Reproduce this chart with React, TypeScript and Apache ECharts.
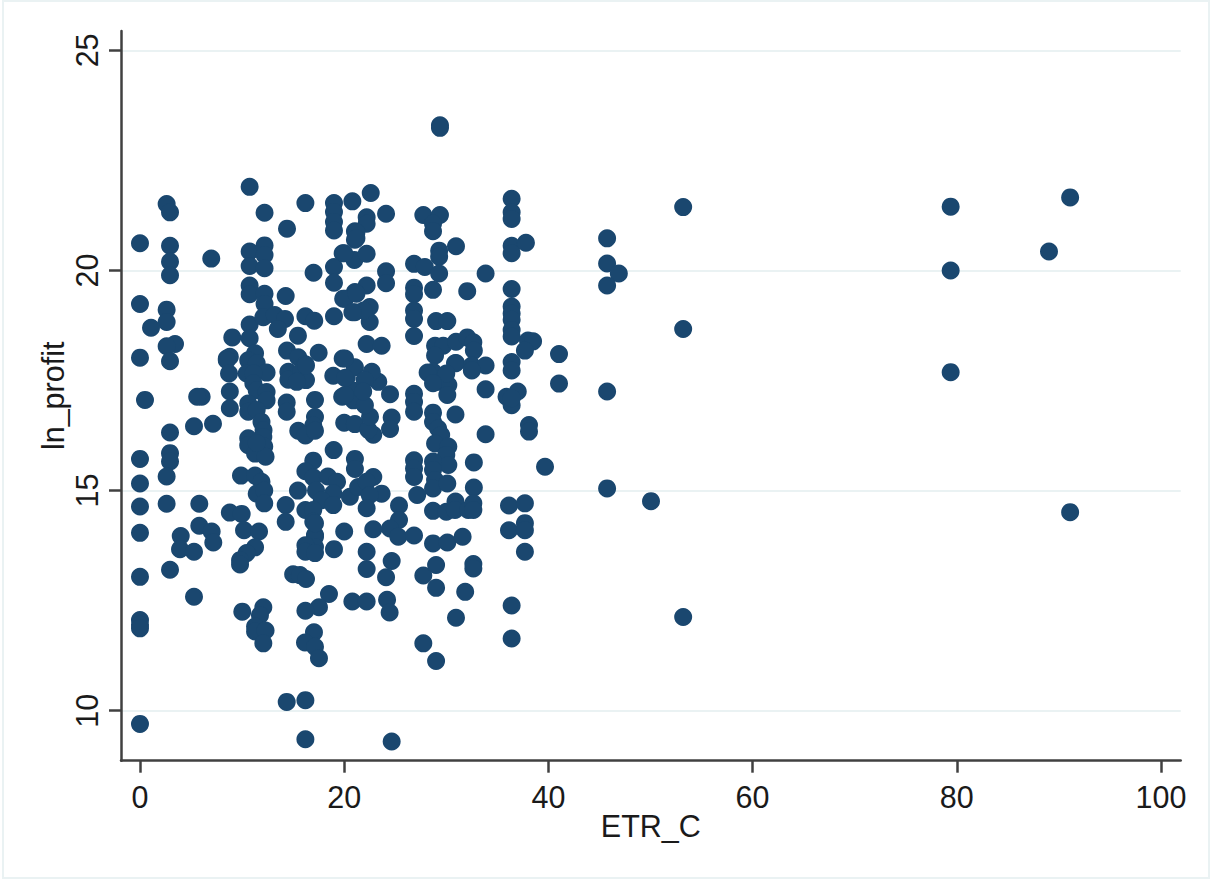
import React, { useEffect, useRef } from "react";
import * as echarts from "echarts";

const xTicks = [0, 20, 40, 60, 80, 100];
const yTicks = [10, 15, 20, 25];
const xName = "ETR_C";
const yName = "ln_profit";

const pointsTop: [number, number][] = [
  [29.38,23.3],[29.38,23.24],[10.74,21.9],[2.61,21.51],[2.94,21.32],[12.2,21.31],[14.4,20.95],[16.2,21.53],[19,21.53],[19,21.33],[19,21.1],[19,20.91],
  [20.8,21.57],[22.6,21.76],[22.2,21.21],[22.2,21.06],[21.05,20.89],[21.05,20.7],[21.2,20.87],[21.2,20.73],[24.1,21.29],[27.75,21.26],[29.38,21.26],[28.7,21.06],[28.7,20.89],
  [30.95,20.55],[29.3,20.45],[29.3,20.31],[26.84,20.15],[27.9,20.08],[29.3,19.93],[33.85,19.93],[36.4,21.63],[36.4,21.32],[36.4,21.17],[36.4,20.56],[36.4,20.39],[37.8,20.63],
  [0,20.62],[2.94,20.56],[2.94,20.2],[2.94,19.89],[6.98,20.27],[10.74,20.43],[10.74,20.1],[12.2,20.57],[12.2,20.35],[12.2,20.05],[17,19.95],[19,20.08],[19,19.72],[19.85,20.39],[21,20.24],
  [20,20.39],[22.2,20.38],[24.1,19.98],[24.1,19.71],[26.84,19.61],[26.84,19.46],[28.7,19.56],[32.05,19.53],[36.4,19.58],[36.4,19.18],[36.4,19.02],[36.4,18.88],[36.4,18.65],[36.4,18.5],
];

const pointsUpper: [number, number][] = [
  [26.84,19.09],[26.84,18.9],[26.84,18.51],[29,18.85],[30.1,18.85],[38,18.41],[38.5,18.39],[37.7,18.18],[41.04,18.1],[22.2,19.66],[21.05,19.51],[20.08,19.36],[21.05,19.05],[22.5,19.17],[22.5,18.83],[21.9,19.09],
  [22.2,18.33],[23.67,18.29],[28.9,18.29],[29.7,18.29],[30.95,18.38],[32.05,18.48],[32.65,18.37],[32.7,18.18],[28.9,18.07],[30.95,17.9],[32.5,17.84],[33.85,17.84],[36.4,17.92],[36.4,17.73],
  [10.74,19.66],[10.74,19.46],[12.2,19.47],[12.2,19.24],[0,19.24],[2.61,19.11],[2.61,18.83],[1.08,18.7],[3.43,18.33],[2.61,18.28],[2.94,17.94],[0,18.02],[9.04,18.48],[10.74,18.77],[10.74,18.46],
  [12.08,18.94],[13.2,18.99],[14.2,18.9],[13.5,18.67],[14.27,19.42],[16.2,18.96],[17.07,18.86],[19,18.96],[15.47,18.52],[14.4,18.18],[17.5,18.13],[15.5,18.03],[16.2,17.87],[19.85,18],[11.27,18.12],
  [8.5,18],[8.8,18.04],[10.74,17.92],[19.9,19.36],[20.8,19.05],[21.2,19.47],[8.5,17.96],[8.72,17.66],[10.6,17.96],[11.43,17.89],[10.45,17.66],[12.4,17.68],[11.1,17.66],[11.1,17.44],[11.43,17.28],
];

const pointsMiddle: [number, number][] = [
  [12.4,17.24],[12.4,17.05],[10.6,16.98],[10.6,16.79],[11.43,16.83],[11.9,16.56],[12.1,16.37],[10.6,16.19],[10.6,16.03],[12.08,16.22],[12.17,16],[11.27,15.84],[12.3,15.77],[11.43,16.08],
  [0.49,17.06],[6.04,17.13],[5.6,17.13],[8.8,17.25],[8.8,16.87],[5.29,16.46],[7.15,16.52],[2.94,16.32],[0,15.72],[2.94,15.85],[2.94,15.66],[2.61,15.32],[0,15.16],[0,14.64],[2.61,14.7],[5.81,14.7],
  [9.89,15.34],[11.27,15.34],[11.9,15.2],[11.43,14.93],[12.17,15],[12.17,14.71],[8.8,14.5],[9.96,14.47],[14.53,17.7],[14.53,17.52],[15.77,17.7],[16.26,17.51],[15.35,17.47],[16.26,17.84],[18.93,17.61],[20.25,17.57],
  [21.05,17.8],[14.37,17],[14.37,16.79],[17.14,17.06],[17.14,16.67],[16.97,16.48],[19.8,17.13],[20.9,17.27],[20.9,17.05],[15.5,16.36],[16.2,16.25],[17.14,16.36],[20,16.54],[21.05,16.51],[18.97,15.92],
  [21.05,15.72],[21.05,15.49],[16.97,15.68],[16.2,15.44],[16.97,15.3],[18.4,15.32],[19.3,15.2],[15.47,15],[17.24,15],[18.93,14.94],[20.56,14.86],[21.37,15.08],[17.8,14.78],[18.93,14.67],
  [28.7,17.7],[29.38,17.47],[30.2,17.4],[30.1,17.17],[30.85,17.89],[30,17.66],[28.17,17.68],[28.7,17.44],[32.5,17.73],[33.85,17.3],[37,17.25],[35.9,17.13],[36.4,16.94],[36.4,17.1],[41.04,17.43],[38.1,16.49],[38.1,16.34],
  [30.9,16.73],[33.85,16.28],[39.67,15.54],[26.84,17.2],[26.84,17.01],[26.84,16.79],[28.7,16.77],[28.7,16.56],[29.2,16.41],[29.5,16.26],[28.9,16.07],[30.2,16],[30,15.81],[30.2,15.58],[28.7,15.66],[28.7,15.47],[28.9,15.24],[28.7,15.05],[30.1,15.16],
  [32.7,15.64],[32.7,15.07],[26.84,15.69],[26.84,15.5],[26.84,15.31],[27.15,14.9],[24.49,17.19],[24.65,16.66],[24.49,16.4],[22.85,16.27],[22.36,16.38],[22.53,16.68],[22.03,16.94],[23.34,17.47],[22.7,17.7],[22,17.51],[20.08,18],[20.08,17.17],[21.86,17.25],[20.08,17.56],
  [22.85,15.31],[22.2,15.2],[23.67,14.93],[22.5,14.9],[22.2,14.6],[25.37,14.66],[28.7,14.54],[30,14.52],[30.9,14.75],[30.85,14.56],[32.15,14.56],[32.65,14.71],[32.65,14.56],[36.14,14.66],[37.7,14.71],
];

const pointsLower: [number, number][] = [
  [14.27,14.67],[14.27,14.29],[16.2,14.56],[16.97,14.56],[16.97,14.29],[17.14,13.99],[20,14.07],[0,14.04],[3.99,13.97],[3.92,13.67],[5.29,13.61],[5.81,14.2],[7.02,14.07],[7.18,13.82],[10.19,14.1],[11.66,14.07],[11.27,13.71],[10.45,13.58],[9.8,13.42],[9.8,13.32],
  [2.94,13.2],[0,13.04],[5.29,12.59],[0,12.06],[0,11.95],[0,11.87],[10.02,12.25],[12.08,12.35],[11.75,12.17],[11.27,11.91],[11.27,11.8],[12.3,11.82],[12.08,11.53],[15,13.1],[15.67,13.08],[16.26,12.99],[17.14,13.95],[17.14,13.72],[16.2,13.76],[16.2,13.61],[17.14,13.58],[17.14,14.26],
  [19,13.67],[18.51,12.65],[17.53,12.35],[16.2,12.27],[20.8,12.48],[17.04,11.78],[16.16,11.55],[17.14,11.45],[17.53,11.19],[14.37,10.2],[16.2,10.24],[16.2,9.35],[24.65,9.3],[0,9.7],
  [25.37,14.33],[24.49,14.14],[25.3,13.95],[26.84,13.98],[22.85,14.12],[36.14,14.1],[37.7,14.26],[37.7,14.1],[37.7,13.61],[36.4,12.39],[36.4,11.64],[32.65,13.33],[32.65,13.23],[31.85,12.7],[30.95,12.11],[27.75,11.53],[29,11.13],[29,12.79],[27.75,13.07],[29,13.31],
  [28.7,13.8],[30.1,13.82],[31.6,13.95],[22.2,13.61],[22.2,13.22],[24.65,13.4],[24.1,13.03],[22.2,12.48],[24.2,12.52],[24.45,12.23],
];

const pointsRight: [number, number][] = [
  [45.75,20.73],[45.75,20.16],[46.9,19.93],[45.75,19.66],[45.75,17.25],[45.75,15.05],[50.05,14.76],[53.2,21.44],[53.2,18.67],[53.2,12.13],[79.4,21.45],[79.4,20],[79.4,17.69],[89.03,20.43],[91.1,21.66],[91.1,14.51],
];

const allPoints = [...pointsTop, ...pointsUpper, ...pointsMiddle, ...pointsLower, ...pointsRight];

const FONT = "'Liberation Sans', Arial, sans-serif";
const INK = "#1a1a1a";
const AXIS = "#404040";
const PALE = "#eaf2f3";
const NAVY = "#1a476f";

export default function App() {
  const ref = useRef<HTMLDivElement>(null);
  useEffect(() => {
    if (!ref.current) return;
    const chart = echarts.init(ref.current, undefined, { renderer: "svg" });
    const axisCommon = {
      type: "value" as const,
      nameLocation: "middle" as const,
      nameMoveOverlap: false,
      nameTextStyle: { fontFamily: FONT, fontSize: 30.5, color: INK },
      axisLine: { show: true, onZero: false, lineStyle: { color: AXIS, width: 2.5 } },
    };
    chart.setOption({
      animation: false,
      backgroundColor: "#ffffff",
      graphic: [
        {
          type: "rect",
          shape: { x: 3, y: 1, width: 1206, height: 877 },
          style: { fill: "none", stroke: PALE, lineWidth: 2 },
          silent: true,
        },
      ],
      grid: { left: 121, right: 29.3, top: 31, bottom: 118.3, containLabel: false },
      xAxis: {
        ...axisCommon,
        min: -1.86,
        max: 101.93,
        name: xName,
        nameGap: 50,
        axisTick: { show: true, length: 12, customValues: xTicks, lineStyle: { color: AXIS, width: 2.5 } },
        axisLabel: { customValues: xTicks, fontFamily: FONT, fontSize: 30.5, color: INK, margin: 21 },
        splitLine: { show: false },
      },
      yAxis: {
        ...axisCommon,
        min: 8.864,
        max: 25.44,
        name: yName,
        nameGap: 53,
        axisTick: { show: true, length: 12, customValues: yTicks, lineStyle: { color: AXIS, width: 2.5 } },
        axisLabel: { customValues: yTicks, fontFamily: FONT, fontSize: 30.5, color: INK, rotate: 90, margin: 19 },
        splitLine: { show: true, lineStyle: { color: PALE, width: 2 } },
      },
      series: [
        {
          type: "scatter",
          data: allPoints,
          symbol: "circle",
          symbolSize: 18,
          itemStyle: { color: NAVY, opacity: 1 },
          clip: false,
        },
      ],
    });
    return () => chart.dispose();
  }, []);
  return <div ref={ref} style={{ position: "absolute", left: 0, top: 0, width: 1210, height: 879 }} />;
}
